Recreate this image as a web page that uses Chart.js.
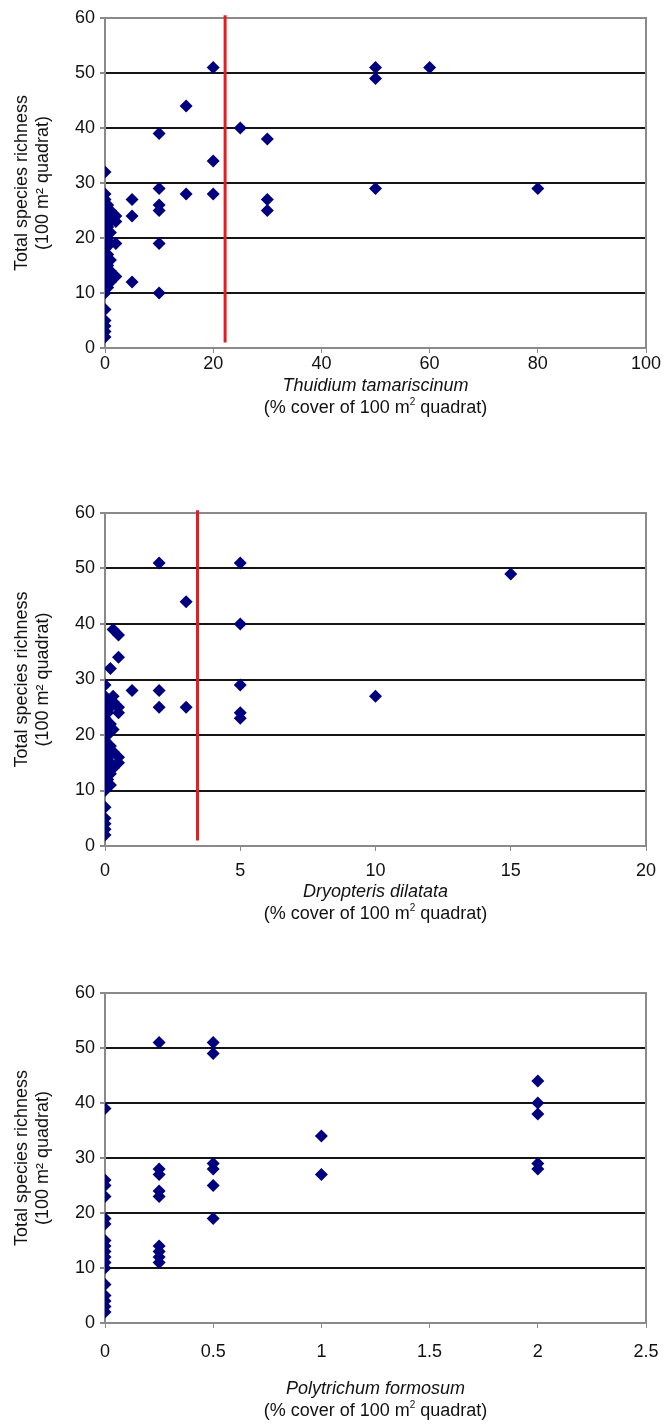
<!DOCTYPE html>
<html>
<head>
<meta charset="utf-8">
<script src="https://cdn.jsdelivr.net/npm/chart.js@4.4.1/dist/chart.umd.min.js"></script>
<style>
  body { margin: 0; background: #fff; }
  #page { position: relative; width: 666px; height: 1425px; font-family: "Liberation Sans", Arial, sans-serif; color: #111; }
  canvas { position: absolute; left: 0; }
  .xt { position: absolute; left: 105px; width: 541px; text-align: center; font-size: 18px; line-height: 22px; }
  .xt i { display: block; }
  .xt sup { font-size: 10px; line-height: 0; vertical-align: baseline; position: relative; top: -8px; }
</style>
</head>
<body>
<div id="page">
  <canvas id="c1" width="666" height="475" style="top:0px"></canvas>
  <canvas id="c2" width="666" height="475" style="top:475px"></canvas>
  <canvas id="c3" width="666" height="475" style="top:950px"></canvas>
  <div class="xt" style="top:374px"><i>Thuidium tamariscinum</i>(% cover of 100 m<sup>2</sup> quadrat)</div>
  <div class="xt" style="top:880px"><i>Dryopteris dilatata</i>(% cover of 100 m<sup>2</sup> quadrat)</div>
  <div class="xt" style="top:1377px"><i>Polytrichum formosum</i>(% cover of 100 m<sup>2</sup> quadrat)</div>
</div>
<script>
const yTicks = [0, 10, 20, 30, 40, 50, 60];

// Thuidium tamariscinum
const thuidiumTicks = [0, 20, 40, 60, 80, 100];
const thuidiumCover = [0, 0, 0, 0, 0, 0, 0, 0, 0, 0, 0, 0, 0, 0, 0, 0, 0, 0, 0, 0, 0, 0, 0, 0, 0,
  0.5, 0.5, 0.5, 0.5, 0.5, 0.5, 0.5, 0.5, 1, 1, 1, 1, 1, 1, 1, 2, 2, 2, 2,
  5, 5, 5, 10, 10, 10, 10, 10, 10, 15, 15, 20, 20, 20, 25, 30, 30, 30, 50, 50, 50, 60, 80];
const thuidiumRichness = [2, 3, 4, 5, 7, 10, 11, 12, 13, 14, 15, 16, 17, 18, 19, 20, 21, 22, 23, 24, 25, 26, 27, 28, 32,
  11, 13, 15, 17, 20, 22, 24, 26, 12, 14, 16, 19, 21, 23, 25, 13, 19, 23, 24,
  12, 24, 27, 10, 19, 25, 26, 29, 39, 28, 44, 28, 34, 51, 40, 25, 27, 38, 29, 49, 51, 51, 29];
const thuidiumThreshold = 22.2;

// Dryopteris dilatata
const dryopterisTicks = [0, 5, 10, 15, 20];
const dryopterisCover = [0, 0, 0, 0, 0, 0, 0, 0, 0, 0, 0, 0, 0, 0, 0, 0, 0, 0, 0, 0, 0, 0, 0, 0,
  0.1, 0.1, 0.1, 0.1, 0.1, 0.2, 0.2, 0.2, 0.2, 0.2, 0.2, 0.2, 0.3, 0.3, 0.3, 0.3, 0.3, 0.3,
  0.5, 0.5, 0.5, 0.5, 0.5, 0.5, 1, 2, 2, 2, 3, 3, 5, 5, 5, 5, 5, 10, 15];
const dryopterisRichness = [2, 3, 4, 5, 7, 10, 11, 12, 13, 14, 15, 16, 17, 18, 19, 20, 21, 22, 23, 24, 25, 26, 27, 29,
  12, 16, 20, 24, 26, 11, 13, 15, 18, 22, 25, 32, 14, 17, 21, 26, 27, 39,
  15, 16, 24, 25, 34, 38, 28, 25, 28, 51, 25, 44, 23, 24, 29, 40, 51, 27, 49];
const dryopterisThreshold = 3.42;

// Polytrichum formosum
const polytrichumTicks = [0, 0.5, 1, 1.5, 2, 2.5];
const polytrichumCover = [0, 0, 0, 0, 0, 0, 0, 0, 0, 0, 0, 0, 0, 0, 0, 0, 0,
  0.25, 0.25, 0.25, 0.25, 0.25, 0.25, 0.25, 0.25, 0.25, 0.5, 0.5, 0.5, 0.5, 0.5, 0.5, 1, 1, 2, 2, 2, 2, 2];
const polytrichumRichness = [2, 3, 4, 5, 7, 10, 11, 12, 13, 14, 15, 18, 19, 23, 25, 26, 39,
  11, 12, 13, 14, 23, 24, 27, 28, 51, 19, 25, 28, 29, 49, 51, 27, 34, 28, 29, 38, 40, 44];

const FONT = { family: '"Liberation Sans", Arial, sans-serif', size: 18 };
const NAVY = '#00007f';

// grey box round the plot area
const framePlugin = {
  id: 'frame',
  beforeDatasetsDraw(chart) {
    const a = chart.chartArea;
    const ctx = chart.ctx;
    ctx.save();
    ctx.strokeStyle = '#8a8a8a';
    ctx.lineWidth = 2;
    ctx.strokeRect(a.left, a.top, a.right - a.left, a.bottom - a.top);
    ctx.restore();
  }
};

function buildChart(id, cover, richness, xTicks, threshold, plotTop, plotBottom, tickPad) {
  const H = 475;
  const points = cover.map((x, i) => ({ x, y: richness[i] }));
  const datasets = [{
    type: 'scatter',
    data: points,
    pointStyle: 'rectRot',
    pointRadius: 6.5,
    pointHoverRadius: 6.5,
    backgroundColor: NAVY,
    borderColor: NAVY,
    borderWidth: 0,
    order: 0
  }];
  if (threshold != null) {
    datasets.push({
      type: 'line',
      data: [{ x: threshold, y: 1 }, { x: threshold, y: 60.5 }],
      borderColor: '#e41e1e',
      borderWidth: 3,
      pointRadius: 0,
      clip: false,
      order: 1
    });
  }
  return new Chart(document.getElementById(id), {
    type: 'scatter',
    data: { datasets },
    plugins: [framePlugin],
    options: {
      responsive: false,
      animation: false,
      events: [],
      layout: { autoPadding: false, padding: { top: plotTop, right: 20, left: 0, bottom: 0 } },
      plugins: { legend: { display: false }, tooltip: { enabled: false } },
      scales: {
        x: {
          type: 'linear',
          min: xTicks[0],
          max: xTicks[xTicks.length - 1],
          afterBuildTicks: s => { s.ticks = xTicks.map(v => ({ value: v })); },
          afterFit: s => { s.height = H - plotBottom; s.paddingLeft = 0; s.paddingRight = 0; },
          grid: { drawOnChartArea: false, drawTicks: true, tickLength: 5, tickColor: '#8a8a8a' },
          border: { display: true, color: '#8a8a8a', width: 2 },
          ticks: { font: FONT, color: '#111', padding: tickPad, maxRotation: 0, callback: v => String(v) }
        },
        y: {
          type: 'linear',
          min: 0,
          max: 60,
          afterBuildTicks: s => { s.ticks = yTicks.map(v => ({ value: v })); },
          afterFit: s => { s.width = 105; s.paddingTop = 0; s.paddingBottom = 0; },
          grid: {
            color: ctx => (ctx.tick && (ctx.tick.value === 0 || ctx.tick.value === 60)) ? '#8a8a8a' : '#151515',
            lineWidth: 2,
            drawTicks: true,
            tickLength: 5,
            tickColor: '#8a8a8a'
          },
          border: { display: true, color: '#6a6a6a', width: 2 },
          ticks: { font: FONT, color: '#111', padding: 5 },
          title: {
            display: true,
            text: ['Total species richness', '(100 m² quadrat)'],
            font: { family: FONT.family, size: 18 },
            color: '#111',
            padding: { top: 11, bottom: 0 }
          }
        }
      }
    }
  });
}

buildChart('c1', thuidiumCover, thuidiumRichness, thuidiumTicks, thuidiumThreshold, 18, 348, 0);
buildChart('c2', dryopterisCover, dryopterisRichness, dryopterisTicks, dryopterisThreshold, 513 - 475, 846 - 475, 9);
buildChart('c3', polytrichumCover, polytrichumRichness, polytrichumTicks, null, 993 - 950, 1323 - 950, 13);
</script>
</body>
</html>
